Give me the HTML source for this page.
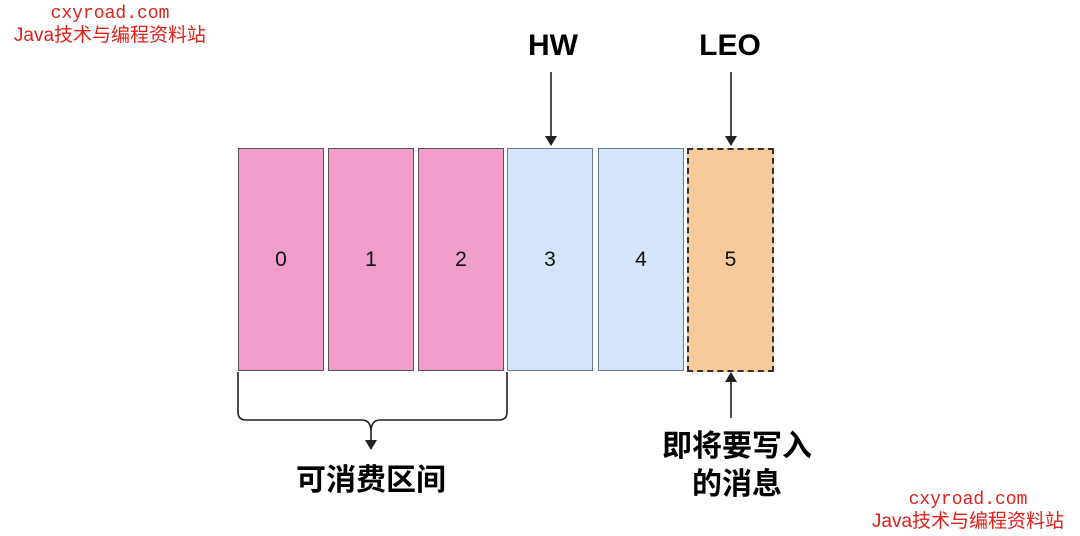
<!DOCTYPE html>
<html><head><meta charset="utf-8"><style>
body{margin:0;width:1080px;height:536px;background:#fff;overflow:hidden;position:relative;font-family:"Liberation Sans","Noto Sans CJK SC",sans-serif}
.b{position:absolute;top:148px;width:84px;height:221px;border:1px solid #555;display:flex;align-items:center;justify-content:center;font-size:21px;color:#111}
.p{background:#f09ec9}.l{background:#d4e4f9;border-color:#6b7b93}
.t{position:absolute;font-weight:bold;color:#000;text-align:center}
.w{position:absolute;color:#e0201a;font-size:19px;text-align:center;width:260px;line-height:22px}
</style></head><body>
<div class="w" style="left:-20px;top:3px;font-family:'Liberation Mono',monospace;font-size:18px">cxyroad.com</div>
<div class="w" style="left:-20px;top:25px">Java技术与编程资料站</div>
<div class="w" style="left:838px;top:489px;font-family:'Liberation Mono',monospace;font-size:18px">cxyroad.com</div>
<div class="w" style="left:838px;top:511px">Java技术与编程资料站</div>
<div class="b p" style="left:238px">0</div>
<div class="b p" style="left:328px">1</div>
<div class="b p" style="left:418px">2</div>
<div class="b l" style="left:507px">3</div>
<div class="b l" style="left:598px">4</div>
<div class="b" style="left:687px;background:#f7c99b;border:2px dashed #333;width:83px;height:220px">5</div>
<div class="t" style="left:503px;top:29px;width:100px;font-size:30px">HW</div>
<div class="t" style="left:680px;top:29px;width:100px;font-size:30px">LEO</div>
<div class="t" style="left:271px;top:455px;width:200px;font-size:30px">可消费区间</div>
<div class="t" style="left:637px;top:428px;width:200px;font-size:30px;line-height:38px">即将要写入<br>的消息</div>
<svg width="1080" height="536" style="position:absolute;left:0;top:0">
<g stroke="#222" stroke-width="1.6" fill="none">
<line x1="551" y1="72" x2="551" y2="138"/>
<line x1="731" y1="72" x2="731" y2="138"/>
<line x1="731" y1="418" x2="731" y2="380"/>
<path d="M238 372 V412 Q238 420 246 420 H362 Q371 420 371 432 V440 M371 432 Q371 420 380 420 H499 Q507 420 507 412 V372"/>
</g>
<g fill="#222">
<polygon points="545,136 557,136 551,146"/>
<polygon points="725,136 737,136 731,146"/>
<polygon points="725,382 737,382 731,372"/>
<polygon points="365,440 377,440 371,450"/>
</g>
</svg>
</body></html>
